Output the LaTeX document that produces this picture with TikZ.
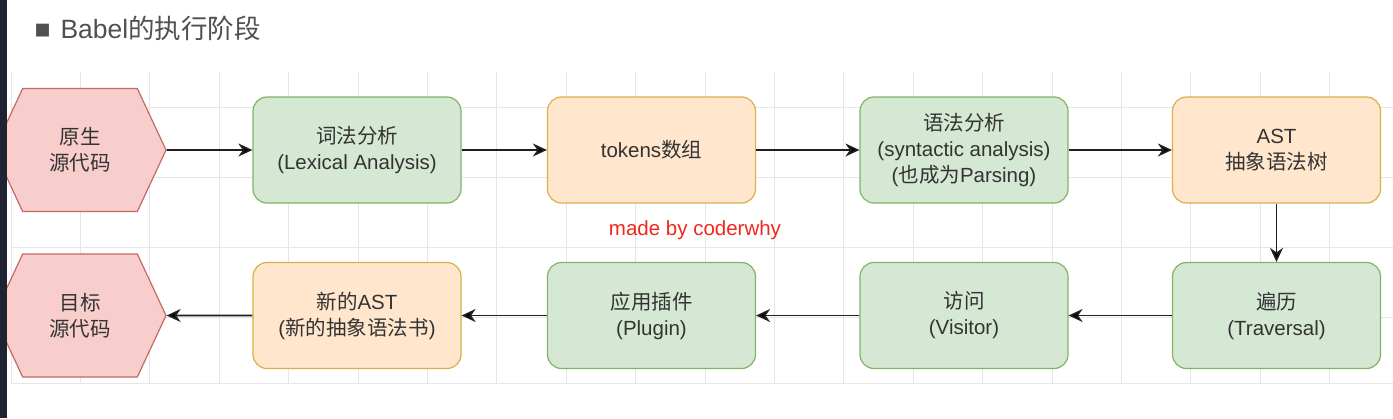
\documentclass[tikz,border=0pt]{standalone}
\usepackage{fontspec}
\setmainfont{Liberation Sans}
\newfontfamily\cjk{Noto Sans CJK SC}
\newcommand{\zh}[1]{{\cjk #1}}
\usetikzlibrary{arrows.meta,positioning,shapes.symbols}
\definecolor{greenfill}{HTML}{D5E8D4}
\definecolor{greenline}{HTML}{82B366}
\definecolor{orangefill}{HTML}{FFE6CC}
\definecolor{orangeline}{HTML}{D9B04A}
\definecolor{pinkfill}{HTML}{F8CECC}
\definecolor{pinkline}{HTML}{C46A62}
\definecolor{gridgrey}{HTML}{E6E6E6}
\definecolor{textgrey}{HTML}{333333}
\definecolor{titlegrey}{HTML}{505050}
\definecolor{stripdark}{HTML}{1F2230}
\definecolor{markred}{HTML}{F0281E}
\tikzset{
  box/.style={rectangle, rounded corners=14pt, line width=1.2pt,
    minimum width=208pt, minimum height=106pt, align=center,
    text=textgrey, font=\fontsize{20.5}{26}\selectfont},
  greenbox/.style={box, draw=greenline, fill=greenfill},
  orangebox/.style={box, draw=orangeline, fill=orangefill},
  hexa/.style={signal, signal to=west and east, signal pointer angle=130,
    draw=pinkline, fill=pinkfill, line width=1.2pt,
    minimum width=172pt, minimum height=123pt, align=center,
    text=textgrey, font=\fontsize{20.5}{26}\selectfont},
  gridline/.style={draw=gridgrey, line width=1pt},
  flow/.style={-{Stealth[length=14pt,width=13pt,inset=4.5pt]}, line width=1.6pt, draw=black!88}
}
\begin{document}
\begin{tikzpicture}[x=1pt,y=-1pt,node distance=312.5pt,on grid]
  \useasboundingbox[fill=white] (0,0) rectangle (1393,418);
  % grid behind
  \foreach \gx in {0,...,19}
    \draw[gridline] ({11+69.4*\gx},72) -- ({11+69.4*\gx},383);
  \foreach \gy in {107,177,247,317,383}
    \draw[gridline] (11,\gy) -- (1393,\gy);

  \node[anchor=west, text=titlegrey, font=\fontsize{26.5}{30}\selectfont] (title) at (31,28)
    {■\hspace{10pt}Babel\zh{的执行阶段}};

  \node[hexa] (src) at (80,150) {\zh{原生}\\\zh{源代码}};
  \node[greenbox] (lex) [right=277pt of src] {\zh{词法分析}\\(Lexical Analysis)};
  \node[orangebox] (tok) [right=294.5pt of lex] {tokens\zh{数组}};
  \node[greenbox] (syn) [right=of tok] {\zh{语法分析}\\(syntactic analysis)\\(\zh{也成为}Parsing)};
  \node[orangebox] (ast) [right=of syn] {AST\\\zh{抽象语法树}};

  \node[greenbox] (trav) [below=165.5pt of ast] {\zh{遍历}\\(Traversal)};
  \node[greenbox] (visit) [left=of trav] {\zh{访问}\\(Visitor)};
  \node[greenbox] (plug) [left=of visit] {\zh{应用插件}\\(Plugin)};
  \node[orangebox] (newast) [left=294.5pt of plug] {\zh{新的}AST\\(\zh{新的抽象语法书})};
  \node[hexa] (dst) [left=277pt of newast] {\zh{目标}\\\zh{源代码}};

  \node[text=markred, font=\fontsize{20.5}{24}\selectfont] (mark) at (695,230) {made by coderwhy};

  \path[flow]
    (src) edge (lex)
    (lex) edge (tok)
    (tok) edge (syn)
    (syn) edge (ast)
    (ast) edge (trav)
    (trav) edge (visit)
    (visit) edge (plug)
    (plug) edge (newast)
    (newast) edge (dst);

  % screen edge on the left
  \fill[stripdark] (0,0) rectangle (7,418);
\end{tikzpicture}
\end{document}
